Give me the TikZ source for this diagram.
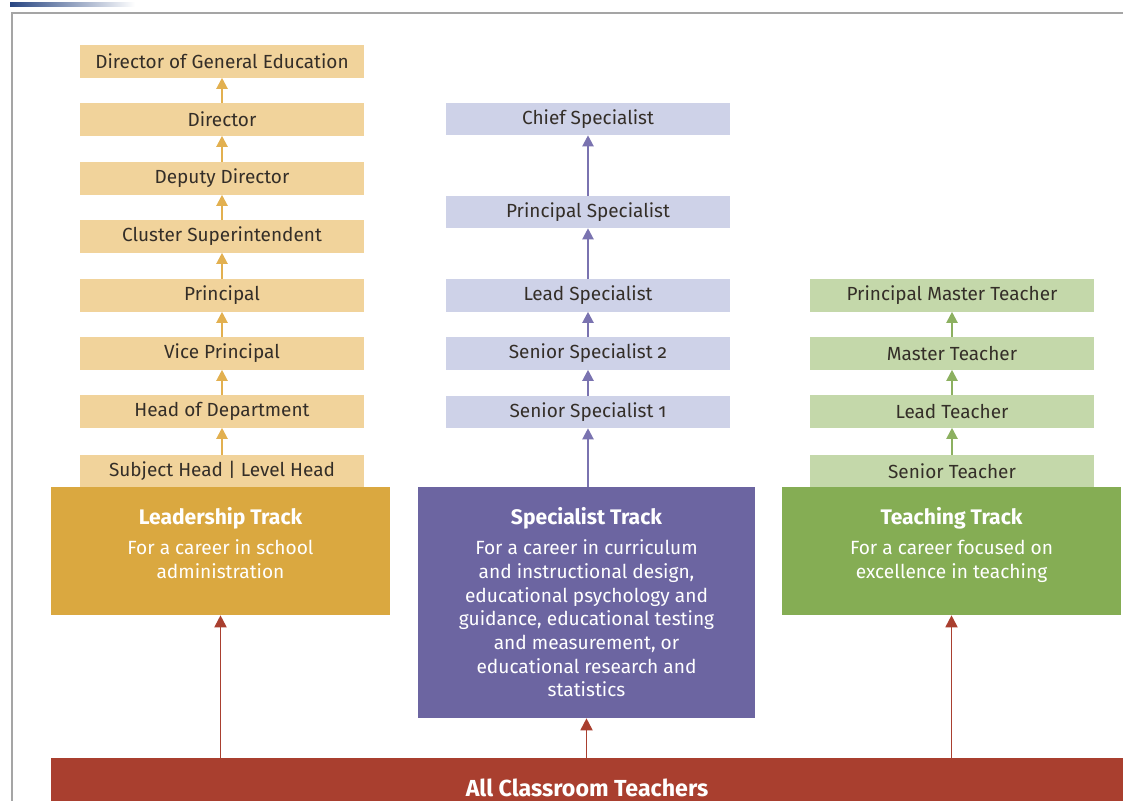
\documentclass[tikz,border=0pt]{standalone}
\usepackage{fontspec}
\setmainfont{Fira Sans}[Numbers=OldStyle]
\usepackage{tikz}
\usetikzlibrary{positioning, arrows.meta, calc}
\usepackage{xcolor}

\definecolor{leadlight}{RGB}{241,211,155}
\definecolor{leaddark}{RGB}{218,168,64}
\definecolor{speclight}{RGB}{206,210,232}
\definecolor{specdark}{RGB}{108,101,161}
\definecolor{teachlight}{RGB}{196,216,170}
\definecolor{teachdark}{RGB}{133,173,84}
\definecolor{classred}{RGB}{169,63,47}
\definecolor{leadarrow}{RGB}{226,176,80}
\definecolor{specarrow}{RGB}{122,115,176}
\definecolor{teacharrow}{RGB}{140,176,96}
\definecolor{framegrey}{RGB}{165,165,165}
\definecolor{boxtext}{RGB}{52,46,40}
\definecolor{bannerblue}{RGB}{40,70,130}

\tikzset{
	rung/.style={minimum width=7.1cm, minimum height=0.8cm, inner sep=0pt, text=boxtext,
		font=\fontsize{13.5}{16}\selectfont},
	leadrung/.style={rung, fill=leadlight},
	specrung/.style={rung, fill=speclight},
	teachrung/.style={rung, fill=teachlight},
	track/.style={inner sep=0pt, text=white, font=\fontsize{13.6}{16.8}\selectfont},
	up/.style={line width=1.5pt, -{Triangle[length=0.28cm, width=0.28cm]}},
}

\begin{document}
\begin{tikzpicture}[x=0.025cm, y=-0.025cm]
	\useasboundingbox (0, 0) rectangle (1123, 801);
	\clip (0, 0) rectangle (1123, 801);
	
	% frame
	\shade[left color=bannerblue, right color=white] (10, 3) rectangle (135, 7);
	\draw[framegrey, line width=1.4pt] (12, 801) -- (12, 13) -- (1123, 13);
	
	% leadership track
	\node[leadrung] at (222, 61.5) (dge) {Director of General Education};
	\node[leadrung] at (222, 119.5) (dir) {Director};
	\node[leadrung] at (222, 178.5) (ddir) {Deputy Director};
	\node[leadrung] at (222, 236.5) (cs) {Cluster Superintendent};
	\node[leadrung] at (222, 295.5) (prin) {Principal};
	\node[leadrung] at (222, 353.5) (vp) {Vice Principal};
	\node[leadrung] at (222, 411.5) (hod) {Head of Department};
	\node[leadrung] at (222, 471) (sh) {Subject Head | Level Head};
	
	% specialist track
	\node[specrung] at (588, 119) (chief) {Chief Specialist};
	\node[specrung] at (588, 212) (ps) {Principal Specialist};
	\node[specrung] at (588, 295.5) (ls) {Lead Specialist};
	\node[specrung] at (588, 353.5) (ss2) {Senior Specialist 2};
	\node[specrung] at (588, 412) (ss1) {Senior Specialist 1};
	
	% teaching track
	\node[teachrung] at (952, 295.5) (pmt) {Principal Master Teacher};
	\node[teachrung] at (952, 353.5) (mt) {Master Teacher};
	\node[teachrung] at (952, 411.5) (lt) {Lead Teacher};
	\node[teachrung] at (952, 471) (st) {Senior Teacher};
	
	% track boxes
	\node[track, fill=leaddark] at (220.5, 551) (lead) {\parbox[c][3.2cm][t]{8.475cm}{\centering
		\vspace*{0.5cm}{\fontsize{15}{18}\selectfont\bfseries Leadership Track}\\[0.18cm]
		For a career in school\\ administration}};
	\node[track, fill=specdark] at (586.5, 602.5) (spec) {\parbox[c][5.775cm][t]{8.425cm}{\centering
		\vspace*{0.5cm}{\fontsize{15}{18}\selectfont\bfseries Specialist Track}\\[0.18cm]
		For a career in curriculum\\ and instructional design,\\ educational psychology and\\
		guidance, educational testing\\ and measurement, or\\ educational research and\\ statistics}};
	\node[track, fill=teachdark] at (951.5, 551) (teach) {\parbox[c][3.2cm][t]{8.475cm}{\centering
		\vspace*{0.5cm}{\fontsize{15}{18}\selectfont\bfseries Teaching Track}\\[0.18cm]
		For a career focused on\\ excellence in teaching}};
	
	\node[fill=classred, text=white, minimum width=26.8cm, minimum height=1.5cm, inner sep=0pt,
		font=\fontsize{16.5}{19}\selectfont\bfseries] at (587, 788) (all) {All Classroom Teachers};
	
	\draw[leadarrow]
	(sh) edge[up] (hod)
	(hod) edge[up] (vp)
	(vp) edge[up] (prin)
	(prin) edge[up] (cs)
	(cs) edge[up] (ddir)
	(ddir) edge[up] (dir)
	(dir) edge[up] (dge);
	
	\draw[specarrow]
	(spec.north -| ss1) edge[up] (ss1)
	(ss1) edge[up] (ss2)
	(ss2) edge[up] (ls)
	(ls) edge[up] (ps)
	(ps) edge[up] (chief);
	
	\draw[teacharrow]
	(st) edge[up] (lt)
	(lt) edge[up] (mt)
	(mt) edge[up] (pmt);
	
	\draw[classred, line width=1.3pt, -{Triangle[length=0.3cm, width=0.3cm]}]
	(all.north -| lead) edge (lead)
	(all.north -| spec) edge (spec)
	(all.north -| teach) edge (teach);
\end{tikzpicture}
\end{document}
